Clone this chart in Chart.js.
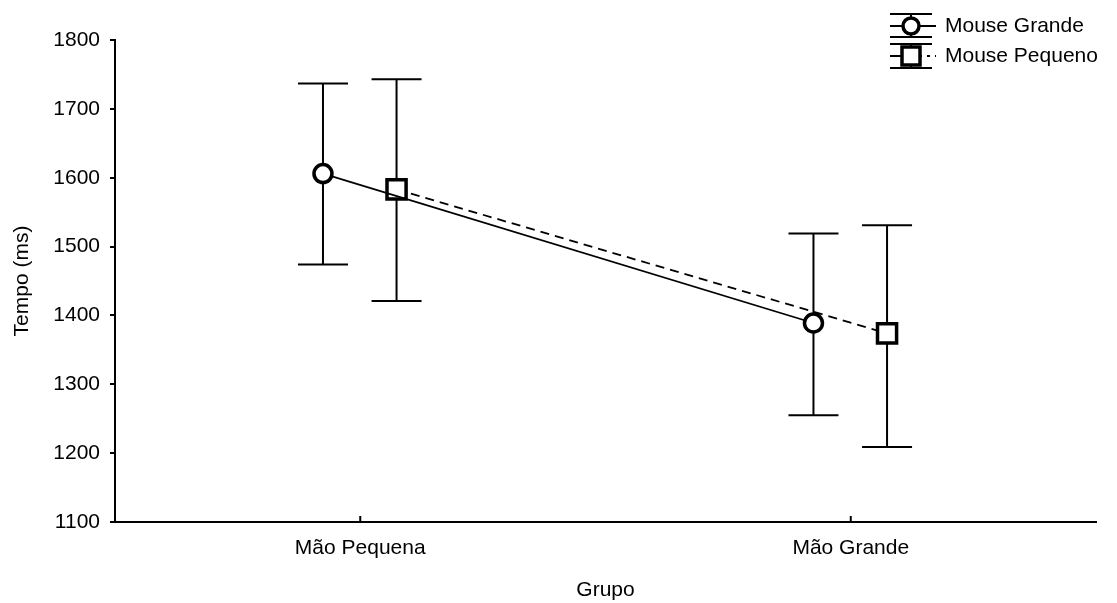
<!DOCTYPE html>
<html>
<head>
<meta charset="utf-8">
<script src="https://cdn.jsdelivr.net/npm/chart.js@4.4.0/dist/chart.umd.min.js"></script>
<style>
  html, body { margin: 0; padding: 0; background: #fff; }
  canvas { display: block; }
</style>
</head>
<body>
<canvas id="graph" width="1117" height="603"></canvas>
<script>
// categories and where they sit on the (linear) x axis
const categories = ['Mão Pequena', 'Mão Grande'];
const categoryPos = [0.5, 1.5];

// Mouse Grande: mean and error bar limits
const grandeMean = [1606, 1389];
const grandeLow  = [1474, 1255];
const grandeHigh = [1737, 1519];

// Mouse Pequeno: mean and error bar limits
const pequenoMean = [1583, 1374];
const pequenoLow  = [1421, 1209];
const pequenoHigh = [1743, 1531];

const yTicks = [1100, 1200, 1300, 1400, 1500, 1600, 1700, 1800];

// horizontal shift of each series from the category centre
const GRANDE_SHIFT = -0.076;
const PEQUENO_SHIFT = 0.074;

const FONT = "'Liberation Sans', Arial, sans-serif";
const FONT_SIZE = 21;

function toPoints(means, shift) {
    return means.map((v, i) => ({ x: categoryPos[i] + shift, y: v }));
}

// error bars drawn under the markers
const errorBars = {
    id: 'errorBars',
    beforeDatasetsDraw(chart) {
        const { ctx, scales: { x, y } } = chart;
        ctx.save();
        ctx.strokeStyle = '#000';
        ctx.lineWidth = 2;
        chart.data.datasets.forEach(ds => {
            ds.data.forEach((p, i) => {
                const px = x.getPixelForValue(p.x);
                const top = y.getPixelForValue(ds.errHigh[i]);
                const bot = y.getPixelForValue(ds.errLow[i]);
                ctx.beginPath();
                ctx.moveTo(px, top); ctx.lineTo(px, bot);
                ctx.moveTo(px - 25, top); ctx.lineTo(px + 25, top);
                ctx.moveTo(px - 25, bot); ctx.lineTo(px + 25, bot);
                ctx.stroke();
            });
        });
        ctx.restore();
    }
};

// inward tick marks on x axis + legend in the top right corner
const extras = {
    id: 'extras',
    afterDraw(chart) {
        const { ctx, scales: { x }, chartArea } = chart;
        ctx.save();
        ctx.strokeStyle = '#000';
        ctx.lineWidth = 2;
        categoryPos.forEach(v => {
            const px = x.getPixelForValue(v);
            ctx.beginPath();
            ctx.moveTo(px, chartArea.bottom);
            ctx.lineTo(px, chartArea.bottom - 6);
            ctx.stroke();
        });

        // legend
        const ix = 911, x0 = 890, x1 = 932;
        const rows = [
            { y: 26, top: 14, bot: 37, style: 'circle', dash: [] },
            { y: 56, top: 44, bot: 68, style: 'rect', dash: [3, 5] },
        ];
        rows.forEach((r, i) => {
            ctx.lineWidth = 2;
            ctx.setLineDash([]);
            ctx.beginPath();
            ctx.moveTo(x0, r.top); ctx.lineTo(x1, r.top);
            ctx.moveTo(x0, r.bot); ctx.lineTo(x1, r.bot);
            ctx.moveTo(ix, r.top); ctx.lineTo(ix, r.bot);
            ctx.moveTo(x0, r.y); ctx.lineTo(ix, r.y);
            ctx.stroke();
            ctx.setLineDash(r.dash);
            ctx.beginPath();
            ctx.moveTo(ix, r.y); ctx.lineTo(x1 + 4, r.y);
            ctx.stroke();
            ctx.setLineDash([]);
            ctx.lineWidth = 3.5;
            ctx.fillStyle = '#fff';
            ctx.beginPath();
            if (r.style === 'circle') ctx.arc(ix, r.y, 8, 0, Math.PI * 2);
            else ctx.rect(ix - 9, r.y - 9, 18, 18);
            ctx.fill();
            ctx.stroke();

            ctx.fillStyle = '#000';
            ctx.font = FONT_SIZE + 'px ' + FONT;
            ctx.textBaseline = 'middle';
            ctx.textAlign = 'left';
            ctx.fillText(chart.data.datasets[i].label, 945, r.y);
        });
        ctx.restore();
    }
};

new Chart(document.getElementById('graph'), {
    type: 'line',
    data: {
        datasets: [{
            label: 'Mouse Grande',
            data: toPoints(grandeMean, GRANDE_SHIFT),
            errLow: grandeLow,
            errHigh: grandeHigh,
            borderColor: '#000',
            borderWidth: 1.8,
            pointStyle: 'circle',
            pointRadius: 9,
            pointBorderWidth: 3.5,
            pointBackgroundColor: '#fff',
            pointBorderColor: '#000',
            tension: 0,
        }, {
            label: 'Mouse Pequeno',
            data: toPoints(pequenoMean, PEQUENO_SHIFT),
            errLow: pequenoLow,
            errHigh: pequenoHigh,
            borderColor: '#000',
            borderWidth: 1.8,
            borderDash: [9, 6],
            pointStyle: 'rect',
            pointRadius: 13.5,
            pointBorderWidth: 3.5,
            pointBackgroundColor: '#fff',
            pointBorderColor: '#000',
            tension: 0,
        }],
    },
    options: {
        responsive: false,
        animation: false,
        devicePixelRatio: 1,
        layout: { padding: { top: 40, right: 21, left: 0, bottom: 0 } },
        plugins: {
            legend: { display: false },
            tooltip: { enabled: false },
        },
        scales: {
            x: {
                type: 'linear',
                min: 0,
                max: 2,
                afterBuildTicks: scale => { scale.ticks = categoryPos.map(v => ({ value: v })); },
                afterFit: scale => { scale.height = 81; },
                grid: { display: false, drawTicks: false },
                border: { display: true, color: '#000', width: 2 },
                ticks: {
                    padding: 14,
                    color: '#000',
                    font: { family: FONT, size: FONT_SIZE },
                    maxRotation: 0,
                    callback: (v, i) => categories[i],
                },
                title: {
                    display: true,
                    text: 'Grupo',
                    color: '#000',
                    font: { family: FONT, size: FONT_SIZE },
                    padding: { top: 0, bottom: 0 },
                },
            },
            y: {
                min: 1100,
                max: 1800,
                afterBuildTicks: scale => { scale.ticks = yTicks.map(v => ({ value: v })); },
                afterFit: scale => { scale.width = 115; },
                grid: {
                    drawOnChartArea: false,
                    drawTicks: true,
                    tickLength: 5,
                    color: '#000',
                    lineWidth: 2,
                },
                border: { display: true, color: '#000', width: 2 },
                ticks: {
                    padding: 10,
                    color: '#000',
                    font: { family: FONT, size: FONT_SIZE },
                    callback: v => String(v),
                },
                title: {
                    display: true,
                    text: 'Tempo (ms)',
                    color: '#000',
                    font: { family: FONT, size: FONT_SIZE },
                    padding: { top: 10, bottom: 0 },
                },
            },
        },
    },
    plugins: [errorBars, extras],
});
</script>
</body>
</html>
